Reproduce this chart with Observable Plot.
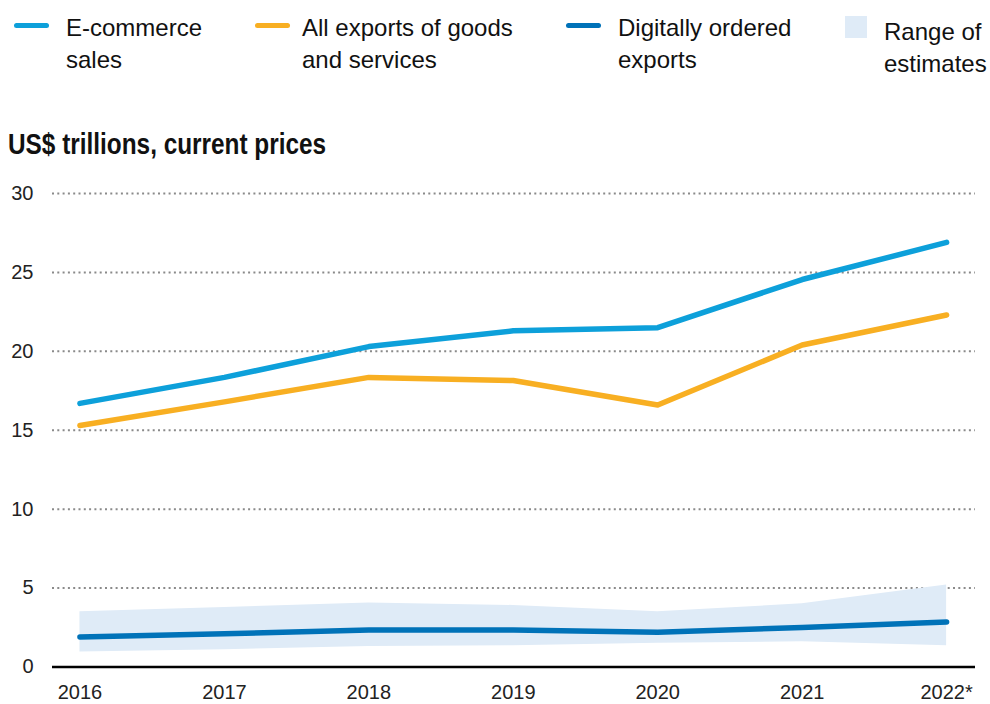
<!DOCTYPE html>
<html>
<head>
<meta charset="utf-8">
<script src="https://cdn.jsdelivr.net/npm/d3@7"></script>
<script src="https://cdn.jsdelivr.net/npm/@observablehq/plot@0.6"></script>
<style>
  html, body { margin: 0; padding: 0; background: #fff; }
  body { width: 990px; height: 704px; position: relative; overflow: hidden;
         font-family: "Liberation Sans", Arial, sans-serif; color: #111; }
  .leg { position: absolute; font-size: 24px; line-height: 32px; color: #111; white-space: nowrap; }
  .sw { position: absolute; height: 5px; border-radius: 3px; }
  .sq { position: absolute; width: 22px; height: 22px; }
  #title { position: absolute; left: 8px; top: 127px; font-family: "Liberation Sans", Arial, sans-serif;
           font-weight: bold; font-size: 29px; line-height: 34px; color: #111; white-space: nowrap;
           transform: scaleX(0.84); transform-origin: 0 0; }
  #chart { position: absolute; left: 0; top: 170px; }
</style>
</head>
<body>
<div id="legend"></div>
<div id="title">US$ trillions, current prices</div>
<div id="chart"></div>
<script>
const years = [2016, 2017, 2018, 2019, 2020, 2021, 2022];
const xTickLabels = ["2016", "2017", "2018", "2019", "2020", "2021", "2022*"];
const yTicks = [0, 5, 10, 15, 20, 25, 30];
const ecommerce = [16.7, 18.35, 20.3, 21.3, 21.5, 24.55, 26.9];
const allExports = [15.3, 16.8, 18.35, 18.15, 16.6, 20.4, 22.3];
const digital = [1.9, 2.1, 2.35, 2.35, 2.2, 2.5, 2.85];
const rangeLow = [0.95, 1.1, 1.3, 1.35, 1.5, 1.6, 1.35];
const rangeHigh = [3.5, 3.77, 4.05, 3.9, 3.5, 4.0, 5.2];

const seriesNames = ["E-commerce sales", "All exports of goods and services", "Digitally ordered exports"];
const colors = ["#0DA0DA", "#F8AF22", "#0072B8"];
const bandColor = "#DFEBF7";

// legend
const legend = document.getElementById("legend");
const legItems = [
  {lines: ["E-commerce", "sales"], color: colors[0], sw: 14, tx: 66, type: "line"},
  {lines: ["All exports of goods", "and services"], color: colors[1], sw: 255, tx: 302, type: "line"},
  {lines: ["Digitally ordered", "exports"], color: colors[2], sw: 566, tx: 618, type: "line"},
  {lines: ["Range of", "estimates"], color: bandColor, sw: 845, tx: 884, type: "square"}
];
legItems.forEach(it => {
  if (it.type === "line") {
    const s = document.createElement("div");
    s.className = "sw";
    s.style.left = it.sw + "px"; s.style.top = "23px"; s.style.width = "35px";
    s.style.background = it.color;
    legend.appendChild(s);
  } else {
    const s = document.createElement("div");
    s.className = "sq";
    s.style.left = it.sw + "px"; s.style.top = "16px";
    s.style.background = it.color;
    legend.appendChild(s);
  }
  const t = document.createElement("div");
  t.className = "leg";
  t.style.left = it.tx + "px";
  t.style.top = (it.type === "square" ? 16 : 12) + "px";
  t.innerHTML = it.lines.join("<br>");
  legend.appendChild(t);
});

const data = years.map((y, i) => ({
  year: y, ecommerce: ecommerce[i], allExports: allExports[i], digital: digital[i],
  low: rangeLow[i], high: rangeHigh[i]
}));

const chart = Plot.plot({
  width: 990,
  height: 534,
  marginLeft: 52,
  marginRight: 15,
  marginTop: 23,
  marginBottom: 37.5,
  style: { fontFamily: "'Liberation Sans', Arial, sans-serif", fontSize: "20px", color: "#222", background: "#fff" },
  x: { domain: [2015.81, 2022.2] },
  y: { domain: [0, 30] },
  marks: [
    Plot.ruleY(yTicks.filter(d => d > 0), { stroke: "#8a8a8a", strokeWidth: 2, strokeDasharray: "2,3.3" }),
    Plot.areaY(data, { x: "year", y1: "low", y2: "high", fill: bandColor }),
    Plot.ruleY([0], { stroke: "#000", strokeWidth: 2.5 }),
    Plot.line(data, { x: "year", y: "ecommerce", stroke: colors[0], strokeWidth: 5.5, strokeLinecap: "round", strokeLinejoin: "round" }),
    Plot.line(data, { x: "year", y: "allExports", stroke: colors[1], strokeWidth: 5.5, strokeLinecap: "round", strokeLinejoin: "round" }),
    Plot.line(data, { x: "year", y: "digital", stroke: colors[2], strokeWidth: 5.5, strokeLinecap: "round", strokeLinejoin: "round" }),
    Plot.axisY({ ticks: yTicks, tickSize: 0, tickPadding: 19, label: null, fontSize: 20 }),
    Plot.axisX({ ticks: years, tickFormat: (d) => xTickLabels[years.indexOf(d)], tickSize: 0, tickPadding: 18, label: null, fontSize: 20 })
  ]
});
document.getElementById("chart").appendChild(chart);
</script>
</body>
</html>
